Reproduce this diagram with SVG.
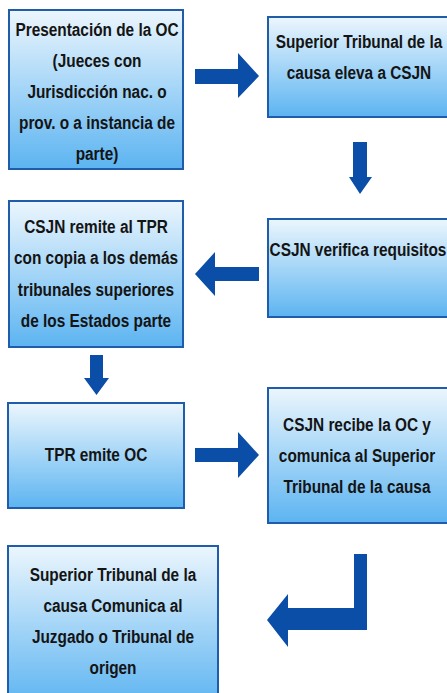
<svg xmlns="http://www.w3.org/2000/svg" width="447" height="693" viewBox="0 0 447 693">
<defs>
<linearGradient id="g" x1="0" y1="0" x2="0" y2="1">
<stop offset="0" stop-color="#ecf6fd"/>
<stop offset="1" stop-color="#5cb4f1"/>
</linearGradient>
<style>
.box{fill:url(#g);stroke:#1f5dab;stroke-width:2}
.t{font-family:"Liberation Sans",Arial,sans-serif;font-weight:bold;font-size:19px;fill:#141414;text-anchor:middle}
.ar{fill:#0b4ea8}
</style>
</defs>
<rect width="447" height="693" fill="#fff"/>
<g id="n1">
<rect class="box" x="9" y="10" width="174" height="159"/>
<g transform="translate(97,0) scale(0.81,1)">
<text class="t" x="0" y="36">Presentación de la OC</text>
<text class="t" x="0" y="67">(Jueces con</text>
<text class="t" x="0" y="98">Jurisdicción nac. o</text>
<text class="t" x="0" y="129">prov. o a instancia de</text>
<text class="t" x="0" y="160">parte)</text>
</g>
</g>
<g id="n2">
<rect class="box" x="268" y="17" width="184" height="100"/>
<g transform="translate(359,0) scale(0.81,1)">
<text class="t" x="0" y="48">Superior Tribunal de la</text>
<text class="t" x="0" y="79">causa eleva a CSJN</text>
</g>
</g>
<g id="n3">
<rect class="box" x="268" y="219" width="184" height="98"/>
<g transform="translate(358,0) scale(0.81,1)">
<text class="t" x="0" y="256">CSJN verifica requisitos</text>
</g>
</g>
<g id="n4">
<rect class="box" x="9" y="201" width="174" height="146"/>
<g transform="translate(96,0) scale(0.81,1)">
<text class="t" x="0" y="233">CSJN remite al TPR</text>
<text class="t" x="0" y="264">con copia a los demás</text>
<text class="t" x="0" y="296">tribunales superiores</text>
<text class="t" x="0" y="327">de los Estados parte</text>
</g>
</g>
<g id="n5">
<rect class="box" x="8" y="403" width="176" height="105"/>
<g transform="translate(96,0) scale(0.81,1)">
<text class="t" x="0" y="461">TPR emite OC</text>
</g>
</g>
<g id="n6">
<rect class="box" x="268" y="388" width="184" height="135"/>
<g transform="translate(357,0) scale(0.81,1)">
<text class="t" x="0" y="431">CSJN recibe la OC y</text>
<text class="t" x="0" y="462">comunica al Superior</text>
<text class="t" x="0" y="493">Tribunal de la causa</text>
</g>
</g>
<g id="n7">
<rect class="box" x="8" y="546" width="210" height="160"/>
<g transform="translate(113,0) scale(0.81,1)">
<text class="t" x="0" y="581">Superior Tribunal de la</text>
<text class="t" x="0" y="612">causa Comunica al</text>
<text class="t" x="0" y="643">Juzgado o Tribunal de</text>
<text class="t" x="0" y="674">origen</text>
</g>
</g>
<g id="connectors">
<polygon class="ar" points="195,69 238,69 238,53 259,76 238,98 238,84 195,84"/>
<polygon class="ar" points="353,142 367,142 367,177 372,177 360,194 349,177 353,177"/>
<polygon class="ar" points="259,267 215,267 215,252 195,274 215,296 215,281 259,281"/>
<polygon class="ar" points="90,355 103,355 103,378 109,378 96.5,395 84,378 90,378"/>
<polygon class="ar" points="195,448 238,448 238,432 259,455 238,478 238,462 195,462"/>
<polygon class="ar" points="354,554 367,554 367,630 288,630 288,647 267,620 288,594 288,608 354,608"/>
</g>
</svg>
